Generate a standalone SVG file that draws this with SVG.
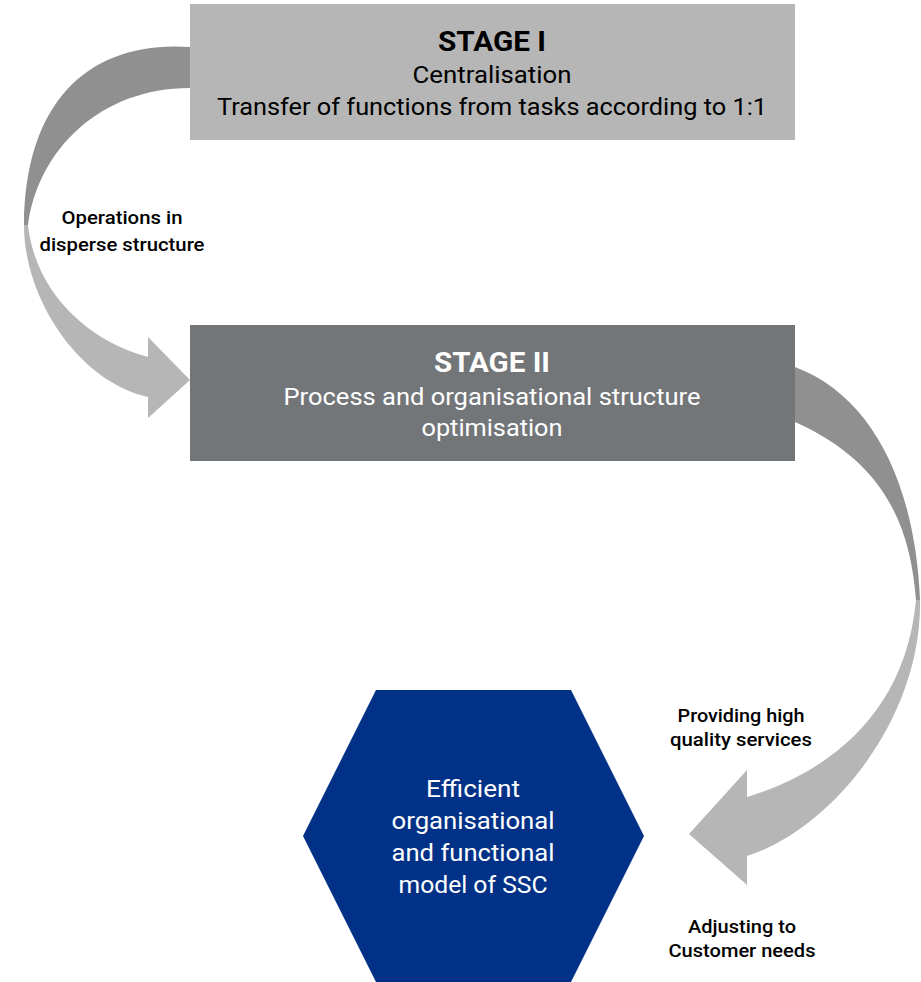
<svg xmlns="http://www.w3.org/2000/svg" width="921" height="982" viewBox="0 0 921 982">
  <style>
    .t { font-family: Roboto, "Noto Sans", "Liberation Sans", sans-serif; text-anchor: middle; }
    .title { font-size: 28px; font-weight: bold; }
    .body { font-size: 23px; }
    .lbl { font-size: 18px; font-weight: 500; fill: #000; }
    .dark { fill: #8f908f; }
    .light { fill: #b5b6b5; }
  </style>
  <rect x="0" y="0" width="921" height="982" fill="#ffffff"/>

  <g id="connectors">
    <g id="arrow-stage1-stage2">
      <path class="dark" d="M190,47 C95,40 25,95 24,225 L28,225 C38,150 100,88 190,88 Z"/>
      <path class="light" d="M24,225 C24,300 80,382 148,397 L148,418 L190,380 L148,337 L148,357 C85,340 35,290 28,225 Z"/>
    </g>
    <g id="arrow-stage2-model">
      <path class="dark" d="M795,367 C870,395 915,480 920,600 L916,600 C910,520 880,460 795,422 Z"/>
      <path class="light" d="M920,600 C922,720 830,830 747,856 L747,885 L689,834 L747,770 L747,797 C820,775 905,720 916,600 Z"/>
    </g>
  </g>

  <g id="stage1">
    <rect x="190" y="4" width="605" height="136" fill="#b5b6b5"/>
    <text class="t title" x="492" y="51" fill="#000" textLength="108" lengthAdjust="spacingAndGlyphs">STAGE I</text>
    <text class="t body" x="492" y="83" fill="#000" textLength="159" lengthAdjust="spacingAndGlyphs">Centralisation</text>
    <text class="t body" x="492" y="115" fill="#000" textLength="550" lengthAdjust="spacingAndGlyphs">Transfer of functions from tasks according to 1:1</text>
  </g>

  <g id="stage2">
    <rect x="190" y="325" width="605" height="136" fill="#737679"/>
    <text class="t title" x="492" y="372" fill="#fff" textLength="116" lengthAdjust="spacingAndGlyphs">STAGE II</text>
    <text class="t body" x="492" y="405" fill="#fff" textLength="417" lengthAdjust="spacingAndGlyphs">Process and organisational structure</text>
    <text class="t body" x="492" y="436" fill="#fff" textLength="141" lengthAdjust="spacingAndGlyphs">optimisation</text>
  </g>

  <g id="model">
    <polygon points="376,690 571,690 644,836 571,982 376,982 303,836" fill="#013287"/>
    <text class="t body" x="473" y="797" fill="#fff" style="font-size:24px" textLength="94" lengthAdjust="spacingAndGlyphs">Efficient</text>
    <text class="t body" x="473" y="829" fill="#fff" style="font-size:24px" textLength="163" lengthAdjust="spacingAndGlyphs">organisational</text>
    <text class="t body" x="473" y="861" fill="#fff" style="font-size:24px" textLength="163" lengthAdjust="spacingAndGlyphs">and functional</text>
    <text class="t body" x="473" y="893" fill="#fff" style="font-size:24px" textLength="149" lengthAdjust="spacingAndGlyphs">model of SSC</text>
  </g>

  <g id="labels">
    <text class="t lbl" x="122" y="224" textLength="121" lengthAdjust="spacingAndGlyphs">Operations in</text>
    <text class="t lbl" x="122" y="251" textLength="165" lengthAdjust="spacingAndGlyphs">disperse structure</text>
    <text class="t lbl" x="741" y="722" textLength="127" lengthAdjust="spacingAndGlyphs">Providing high</text>
    <text class="t lbl" x="741" y="746" textLength="142" lengthAdjust="spacingAndGlyphs">quality services</text>
    <text class="t lbl" x="742" y="933" textLength="108" lengthAdjust="spacingAndGlyphs">Adjusting to</text>
    <text class="t lbl" x="742" y="957" textLength="147" lengthAdjust="spacingAndGlyphs">Customer needs</text>
  </g>
</svg>
